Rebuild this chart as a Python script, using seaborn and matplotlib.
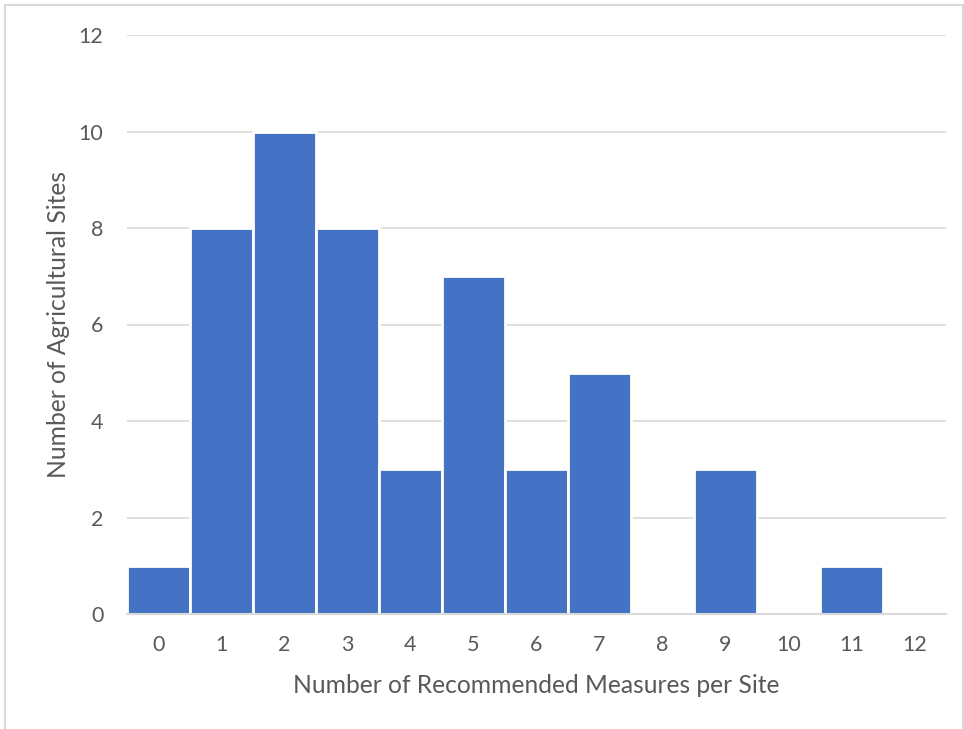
import matplotlib
matplotlib.use("Agg")
import matplotlib.pyplot as plt
import seaborn as sns
import pandas as pd
from matplotlib.patches import Rectangle

measures = [0, 1, 2, 3, 4, 5, 6, 7, 8, 9, 10, 11, 12]
sites = [1, 8, 10, 8, 3, 7, 3, 5, 0, 3, 0, 1, 0]
y_ticks = [0, 2, 4, 6, 8, 10, 12]

sns.set_theme(style="white")
plt.rcParams["font.family"] = ["Lato", "DejaVu Sans"]

df = pd.DataFrame({"measures": [str(m) for m in measures], "sites": sites})

fig = plt.figure(figsize=(9.64, 7.29), dpi=100)
ax = fig.add_axes([127 / 964, 1 - 614 / 729, 819 / 964, 579 / 729])

sns.barplot(data=df, x="measures", y="sites", order=[str(m) for m in measures],
            color="#4472C4", saturation=1, width=1.0, edgecolor="white",
            linewidth=2, ax=ax, zorder=3)

ax.set_xlim(-0.5, len(measures) - 0.5)
ax.set_ylim(0, 12)
ax.set_yticks(y_ticks)
ax.set_yticklabels([str(t) for t in y_ticks])
ax.yaxis.grid(True, color="#D9D9D9", linewidth=1.2, zorder=0)
ax.set_axisbelow(True)

for side in ["top", "right", "left"]:
    ax.spines[side].set_visible(False)
ax.spines["bottom"].set_color("#D9D9D9")
ax.spines["bottom"].set_linewidth(1.5)
ax.spines["bottom"].set_zorder(4)

ax.tick_params(axis="both", length=0, labelsize=15.5, colors="#595959")
ax.tick_params(axis="y", pad=17)
ax.tick_params(axis="x", pad=15)

ax.set_xlabel("Number of Recommended Measures per Site", fontsize=17.7,
              color="#595959", labelpad=14)
ax.set_ylabel("Number of Agricultural Sites", fontsize=17.7, color="#595959",
              labelpad=6)

fig.patches.append(Rectangle((5 / 964, -0.01), 958 / 964, 1 - 5 / 729 + 0.01,
                             transform=fig.transFigure, fill=False,
                             edgecolor="#D9D9D9", linewidth=1.5))

fig.savefig("out.png", dpi=100)
